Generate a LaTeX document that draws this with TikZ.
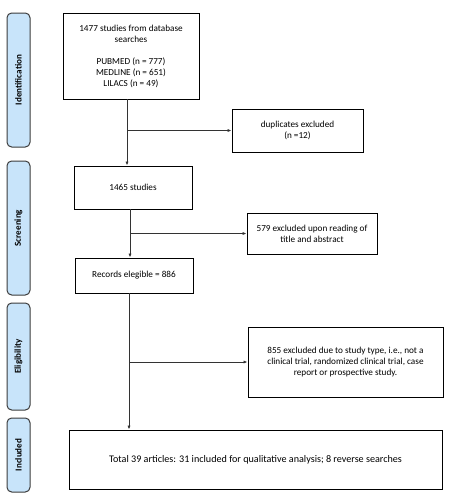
\documentclass[tikz,border=0pt]{standalone}
\usepackage{fontspec}
\setmainfont{Carlito}
\usetikzlibrary{arrows.meta}
\newdimen\px \px=0.75pt
\definecolor{barblue}{RGB}{200,228,250}
\definecolor{bardraw}{RGB}{60,60,60}
\tikzset{
  box/.style={draw=black, line width=0.7pt, align=center, inner sep=1pt,
    font=\fontsize{6.9}{8.25}\selectfont},
  bar/.style={draw=bardraw, fill=barblue, rounded corners=3.5pt, line width=0.75pt,
    minimum width=23\px, font=\bfseries\fontsize{6.8}{8}\selectfont, rotate=90},
  arr/.style={draw=black!80, line width=0.6pt, -{Latex[length=3pt,width=2.4pt]}},
}
\begin{document}
\begin{tikzpicture}[x=1\px, y=-1\px]
\useasboundingbox (0,0) rectangle (452,500);
% side bars
\node[bar, minimum width=134\px, minimum height=23\px] (sid) at (18.5,80) {Identification};
\node[bar, minimum width=134\px, minimum height=23\px] (sscr) at (18.5,228) {Screening};
\node[bar, minimum width=107\px, minimum height=23\px] (selg) at (18.5,356.5) {Eligibility};
\node[bar, minimum width=74\px, minimum height=23\px] (sinc) at (18.5,455) {Included};
% boxes
\node[box, minimum width=136\px, minimum height=86\px] (b1) at (131,56)
  {1477 studies from database\\searches\\[8.25pt]PUBMED (n = 777)\\MEDLINE (n = 651)\\LILACS (n = 49)};
\node[box, minimum width=131\px, minimum height=43\px] (dup) at (297.5,130.5)
  {duplicates excluded\\(n =12)};
\node[box, minimum width=118\px, minimum height=43\px] (b2) at (133,187.5) {1465 studies};
\node[box, minimum width=130\px, minimum height=41\px] (ex2) at (312,233.5)
  {579 excluded upon reading of\\title and abstract};
\node[box, minimum width=118\px, minimum height=35\px] (rec) at (134,275.5) {Records elegible = 886};
\node[box, minimum width=195\px, minimum height=70\px] (ex3) at (345.5,362)
  {855 excluded due to study type, i.e., not a\\clinical trial, randomized clinical trial, case\\report or prospective study.};
\node[box, minimum width=373\px, minimum height=59\px, font=\fontsize{7.6}{9}\selectfont] (tot) at (255.5,459.5)
  {Total 39 articles: 31 included for qualitative analysis; 8 reverse searches};
% connector columns
\coordinate (c1) at (127,0);
\coordinate (c2) at (130,0);
\coordinate (c3) at (129,0);
\draw[arr] (c1 |- b1.south) -- (c1 |- b2.north);
\draw[arr] (c1 |- dup.west) -- (dup.west);
\draw[arr] (c2 |- b2.south) -- (c2 |- rec.north);
\draw[arr] (c2 |- ex2.west) -- (ex2.west);
\draw[arr] (c3 |- rec.south) -- (c3 |- tot.north);
\draw[arr] (c3 |- ex3.west) -- (ex3.west);
\end{tikzpicture}
\end{document}
